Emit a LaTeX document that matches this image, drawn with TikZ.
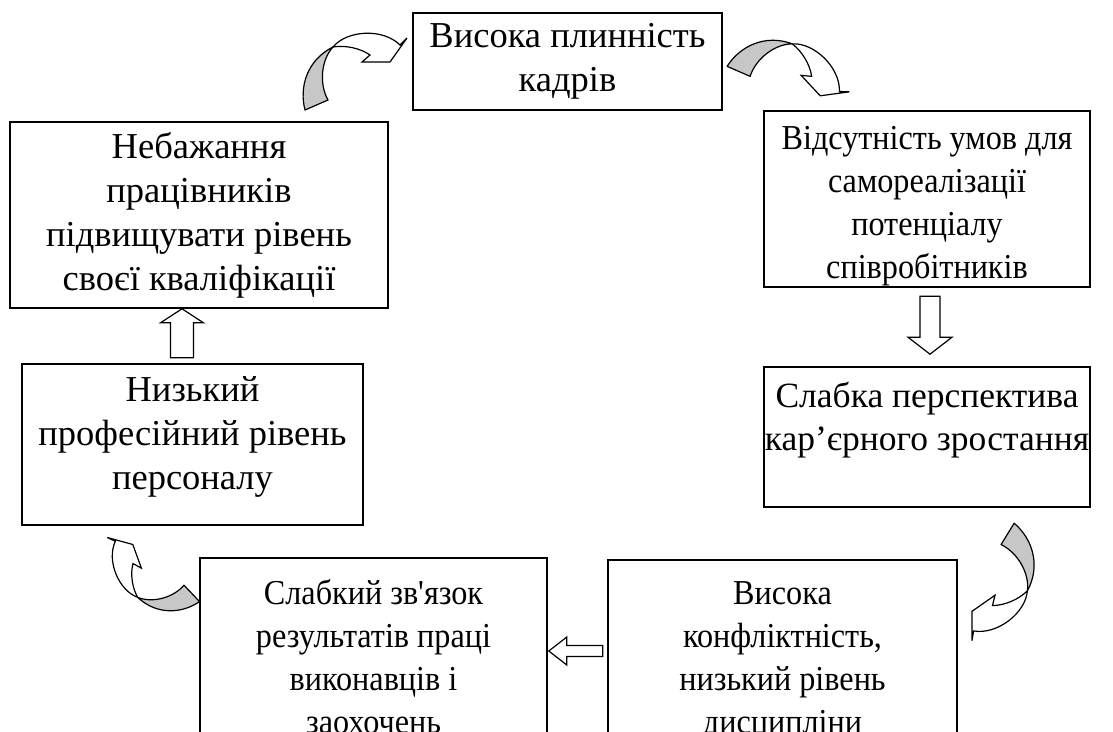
\documentclass[tikz,border=0pt]{standalone}
\usepackage{fontspec}
\setmainfont{Liberation Serif}[Ligatures=TeXOff, FakeStretch=0.92]
\newfontfamily\bigserif{Liberation Serif}[Ligatures=TeXOff]
\usetikzlibrary{calc,positioning}

\tikzset{
  box/.style={draw, line width=1.6pt, inner sep=0pt},
  boxtext/.style={align=center, inner sep=0pt, font=\fontsize{35}{43}\selectfont},
  bigtext/.style={align=center, inner sep=0pt, font=\bigserif\fontsize{36.5}{44}\selectfont},
  hollowarr/.style={draw, line width=1.2pt, fill=white, line join=miter},
  curvarr/.pic={
    \filldraw[line width=1.2pt, fill=black!22, line join=round] (-50,38) .. controls (-56,15) and (-48,-12) .. (-22,-25) .. controls (-34,-12) and (-36,12) .. (-27,28) -- cycle;
    \filldraw[line width=1.2pt, fill=white, line join=miter] (-22,-25) .. controls (-8,-42) and (28,-44) .. (45,-27) -- (52,-34) -- (35,-10) -- (7,-10) -- (15,-17) .. controls (5,-24) and (-10,-27) .. (-22,-25) -- cycle;
  }
}

\begin{document}
\begin{tikzpicture}[x=1pt, y=-1pt]
\useasboundingbox (0,0) rectangle (1113,731);
\clip (0,0) rectangle (1113,731);

\node[box, minimum width=309pt, minimum height=97pt] (plinnist) at (567.5,61.5) {};
\node[box, minimum width=378pt, minimum height=186pt] (nebazhannia) at (199,215) {};
\node[box, minimum width=341pt, minimum height=161pt] (nyzkyi) at (192.5,444.5) {};
\node[box, minimum width=326pt, minimum height=176pt] (umovy) at (927,199) {};
\node[box, minimum width=326pt, minimum height=140pt] (perspektyva) at (927,437) {};
\node[box, minimum width=347pt, minimum height=202pt] (slabkyi) at (373.5,659) {};
\node[box, minimum width=349pt, minimum height=200pt] (konflikt) at (782.5,660) {};

\node[bigtext, below=4pt of plinnist.north] (plinnistT) {\strut Висока плинність\\кадрів};
\node[bigtext, below=6pt of nebazhannia.north] (nebazhanniaT) {\strut Небажання\\працівників\\підвищувати рівень\\своєї кваліфікації};
\node[bigtext, below=7pt of nyzkyi.north] (nyzkyiT) {\strut Низький\\професійний рівень\\персоналу};
\begin{scope}
\clip ([shift={(0.8pt,-0.8pt)}]umovy.north west) rectangle ([shift={(-0.8pt,0.8pt)}]umovy.south east);
\node[boxtext, below=9pt of umovy.north] (umovyT) {\strut Відсутність умов для\\самореалізації\\потенціалу\\співробітників};
\end{scope}
\node[bigtext, font=\bigserif\fontsize{35.5}{43}\selectfont, below=11pt of perspektyva.north] (perspektyvaT) {\strut Слабка перспектива\\кар’єрного зростання};
\node[boxtext, below=17pt of slabkyi.north] (slabkyiT) {\strut Слабкий зв'язок\\результатів праці\\виконавців і\\заохочень};
\node[boxtext, below=15pt of konflikt.north] (konfliktT) {\strut Висока\\конфліктність,\\низький рівень\\дисципліни};

\coordinate (upTip) at ($(nebazhannia.south)+(-17pt,0)$);
\coordinate (downTip) at ($(perspektyva.north)+(3pt,12pt)$);
\coordinate (leftTip) at ($(slabkyi.east)+(1pt,8pt)$);
\draw[hollowarr, shift={(upTip)}] (0,0) -- (21.5,14) -- (11.5,14) -- (11.5,49) -- (-11.5,49) -- (-11.5,14) -- (-21.5,14) -- cycle;
\draw[hollowarr, shift={(downTip)}] (0,0) -- (22,-17) -- (10,-17) -- (10,-58) -- (-10,-58) -- (-10,-17) -- (-22,-17) -- cycle;
\draw[hollowarr, shift={(leftTip)}] (0,0) -- (18,-14) -- (18,-5.5) -- (54,-5.5) -- (54,5.5) -- (18,5.5) -- (18,14) -- cycle;

\pic at (355,72) {curvarr};
\pic[rotate=-47] at (789,77) {curvarr};
\pic[rotate=215] at (995,583) {curvarr};
\pic[xscale=.9, yscale=.9, rotate=110] at (152,571) {curvarr};
\end{tikzpicture}
\end{document}
